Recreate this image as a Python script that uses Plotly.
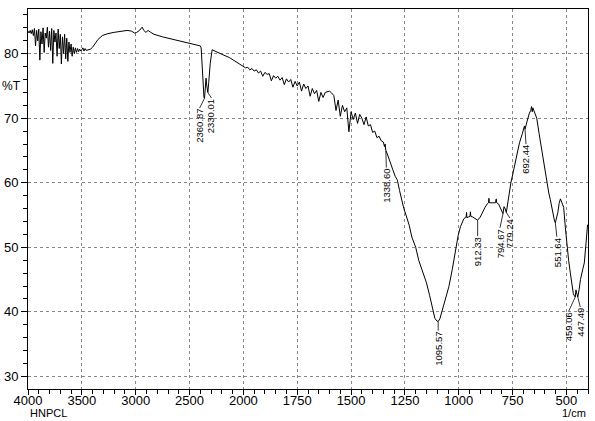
import plotly.graph_objects as go

# ---------------- data ----------------
wavenumber = [
    4000, 3990, 3980, 3970, 3960, 3950, 3940, 3930, 3920, 3910, 3900, 3890, 3880, 3870,
    3860, 3850, 3840, 3830, 3820, 3810, 3800, 3790, 3780, 3770, 3760, 3750, 3740, 3730,
    3720, 3710, 3700, 3690, 3680, 3670, 3660, 3650, 3640, 3630, 3620, 3610, 3600, 3590,
    3580, 3570, 3560, 3550, 3540, 3530, 3520, 3510, 3500,
    3490, 3480, 3470, 3460, 3440, 3420, 3400, 3380, 3350, 3310, 3260, 3200, 3150, 3080,
    3040, 3010, 2990, 2965, 2940, 2925, 2905, 2885, 2860, 2830, 2750, 2650, 2550, 2450,
    2400, 2392, 2376, 2366, 2360.87, 2354, 2347, 2340, 2330.01, 2322, 2308, 2290, 2260,
    2200, 2130, 2060, 2020,
    2000, 1990, 1980, 1970, 1960, 1950, 1940, 1930, 1920, 1910, 1900, 1890, 1880, 1870,
    1860, 1850, 1840, 1830, 1820, 1810, 1800, 1790, 1780, 1770, 1760, 1750, 1740, 1730,
    1720, 1710, 1700, 1690, 1680, 1670, 1660, 1650, 1640, 1630, 1620, 1610, 1600, 1590,
    1580, 1570, 1560, 1550, 1540, 1530, 1520, 1510, 1500, 1490, 1480, 1470, 1460, 1450,
    1440, 1430, 1420, 1410, 1400, 1390, 1380, 1370, 1360, 1350, 1345, 1342, 1338.60,
    1330, 1318, 1306, 1295, 1285, 1275, 1265, 1255, 1245, 1230, 1218, 1200, 1186, 1170,
    1150, 1135, 1125, 1111, 1102, 1095.57, 1088, 1079, 1062, 1046, 1030, 1016, 1003, 992,
    984, 977, 970, 966, 964, 962, 955, 948, 946, 944, 935, 925, 912.33, 900, 890, 878,
    866, 862, 860, 858, 845, 830, 826, 824, 815, 807, 800, 794.67, 790, 786, 779.24,
    770, 758, 745, 730, 718, 705, 699, 695, 692.44, 688, 679, 672, 666, 662, 659, 656,
    652, 645, 638, 627, 615, 603, 592, 582, 575, 565, 559, 555, 551.64, 545, 540, 534,
    528, 522, 513, 505, 498, 490, 482, 475, 468, 462, 459.06, 456, 452, 447.49, 441,
    435, 425, 417, 409, 402,
]
transmittance = [
    83.5, 83.2, 83.6, 83.1, 83.7, 82.8, 83.9, 81.2, 83.6, 82.0, 83.8, 79.0, 83.4, 81.5,
    84.0, 80.2, 83.2, 82.4, 84.1, 81.0, 83.5, 80.5, 83.9, 78.5, 83.6, 81.8, 83.2, 79.6,
    83.8, 80.8, 83.0, 78.4, 82.6, 80.0, 83.0, 79.2, 82.4, 78.8, 81.8, 80.2, 81.5, 79.6,
    81.0, 80.0, 80.9, 80.2, 80.8, 80.3, 80.7, 80.4, 80.6,
    80.9, 80.4, 80.8, 80.5, 80.6, 80.7, 81.0, 81.5, 82.2, 82.8, 83.1, 83.3, 83.4, 83.6,
    83.5, 83.2, 83.3, 83.6, 84.1, 83.6, 83.3, 83.6, 83.3, 83.0, 82.6, 82.2, 81.8, 81.4,
    81.2, 80.9, 74.5, 73.2, 73.1, 75.0, 76.2, 75.0, 74.0, 75.5, 78.5, 80.6, 80.4,
    79.9, 79.4, 78.6, 78.2,
    78.0, 77.8, 77.9, 77.5, 77.7, 77.3, 77.5, 77.0, 77.3, 76.5, 77.1, 76.8, 76.9, 75.8,
    76.6, 76.2, 76.5, 75.9, 76.3, 75.2, 76.1, 75.6, 76.0, 74.8, 75.7, 75.0, 75.6, 74.2,
    75.3, 74.6, 75.0, 73.4, 74.6, 73.8, 74.3, 72.6, 74.0, 73.2, 74.0, 74.1, 74.2, 73.9,
    73.5, 71.2, 72.8, 70.3, 72.0, 71.0, 71.6, 67.9, 71.0, 69.8, 70.8, 69.2, 70.6, 70.0,
    69.0, 70.2, 68.8, 69.0, 67.8, 68.0, 67.0, 67.2, 66.5, 66.3, 65.6, 66.0, 65.0,
    64.3, 63.3, 62.0, 61.0, 60.4, 58.8, 57.2, 56.0, 55.0, 53.4, 51.6, 50.0, 48.0, 46.3,
    44.5, 42.5, 40.8, 39.0, 38.6, 38.5, 38.9, 39.9, 41.8, 43.9, 46.6, 49.6, 51.8, 53.2,
    54.0, 54.4, 54.6, 54.6, 55.4, 54.6, 54.7, 54.8, 55.5, 54.8, 54.7, 54.5, 54.2, 54.7, 55.5, 56.2,
    56.8, 56.9, 57.6, 56.9, 56.9, 56.9, 57.5, 56.9, 56.7, 56.0, 55.4, 55.2, 56.3, 56.1, 55.4,
    57.5, 60.0, 62.0, 64.3, 66.2, 67.6, 68.2, 68.8, 68.3, 69.0, 70.0, 70.8, 71.2, 71.8, 71.0, 71.6,
    71.3, 70.6, 70.0, 67.6, 65.0, 62.3, 60.0, 58.4, 57.4, 55.6, 54.3, 54.0, 53.8, 54.6, 55.4, 56.8,
    57.5, 57.0, 56.2, 53.0, 50.1, 48.0, 46.0, 44.0, 42.8, 42.4, 42.3, 43.4, 43.0, 42.3, 43.5,
    45.0, 46.5, 47.6, 50.7, 53.5,
]

peak_wn = [2360.87, 2330.01, 1338.60, 1095.57, 912.33, 794.67, 779.24, 692.44, 551.64, 459.06, 447.49]
peak_T = [73.1, 74.0, 65.0, 38.5, 54.2, 55.2, 55.4, 68.3, 53.8, 42.3, 42.3]
peak_text = ["2360.87", "2330.01", "1338.60", "1095.57", "912.33", "794.67", "779.24",
             "692.44", "551.64", "459.06", "447.49"]

tick_wn = [4000, 3500, 3000, 2500, 2000, 1750, 1500, 1250, 1000, 750, 500]


# Shimadzu style axis: below 2000 cm-1 the scale is expanded 2x
def u(w):
    return 4000 - w if w >= 2000 else 2000 + 2 * (2000 - w)


xs = [u(w) for w in wavenumber]

fig = go.Figure()
fig.add_trace(go.Scatter(x=xs, y=transmittance, mode="lines",
                         line=dict(color="black", width=1), hoverinfo="skip",
                         showlegend=False))

FONT = "Liberation Sans, Arial, sans-serif"

# label layout: (text centre dx px, text top offset px below the point)
label_dx = [-5, 3.5, 0.5, 0, 0, -3, 3.5, 1, 1.5, -6.5, 2.5]
label_top = [10, 5.5, 17, 9, 16, 14, 5.5, 15, 14, 14, 10]

shapes = []
annotations = []
for w, t, txt, dx, top in zip(peak_wn, peak_T, peak_text, label_dx, label_top):
    shapes.append(dict(type="line", xref="x", yref="y", xsizemode="pixel", ysizemode="pixel",
                       xanchor=u(w), yanchor=t, x0=0, y0=0, x1=dx, y1=-top,
                       line=dict(color="black", width=0.8)))
    annotations.append(dict(x=u(w), y=t, xref="x", yref="y", text=txt, showarrow=False,
                            textangle=-90, xanchor="center", yanchor="top",
                            xshift=dx, yshift=-top, borderpad=0,
                            font=dict(family=FONT, size=9.5, color="black")))

annotations.append(dict(x=-0.05, y=75, xref="paper", yref="y", text="%T", showarrow=False,
                        xanchor="left", yanchor="middle",
                        font=dict(family=FONT, size=12, color="black")))
annotations.append(dict(x=0.0, y=0, xref="paper", yref="paper", text="HNPCL", showarrow=False,
                        xanchor="left", yanchor="bottom", yshift=-32,
                        font=dict(family=FONT, size=11, color="black")))
annotations.append(dict(x=1.0, y=0, xref="paper", yref="paper", text="1/cm", showarrow=False,
                        xanchor="right", yanchor="bottom", yshift=-32,
                        font=dict(family=FONT, size=11, color="black")))

minor_x = [v for v in range(0, 5201, 100)]

fig.update_layout(
    width=595, height=421,
    margin=dict(l=28, r=7, t=9, b=32, autoexpand=False),
    paper_bgcolor="white", plot_bgcolor="white",
    font=dict(family=FONT, size=13, color="black"),
    shapes=shapes, annotations=annotations,
    xaxis=dict(range=[0, 5200], tickmode="array", tickvals=[u(w) for w in tick_wn],
               ticktext=[str(w) for w in tick_wn], ticks="outside", ticklen=5,
               ticklabelstandoff=-6,
               tickcolor="black", showline=True, linecolor="black", linewidth=1, mirror=True,
               showgrid=True, gridcolor="#888888", griddash="dot", gridwidth=1,
               zeroline=False,
               minor=dict(tickmode="array", tickvals=minor_x, ticks="outside", ticklen=4,
                          tickcolor="black", showgrid=False),
               tickfont=dict(size=13)),
    yaxis=dict(range=[28.05, 86.92], tickmode="linear", tick0=0, dtick=10, ticks="outside",
               ticklen=6, tickcolor="black", showline=True, linecolor="black", linewidth=1,
               mirror=True, showgrid=True, gridcolor="#888888", griddash="dot", gridwidth=1,
               zeroline=False,
               minor=dict(tickmode="linear", tick0=0, dtick=2, ticks="outside", ticklen=4,
                          tickcolor="black", showgrid=False),
               tickfont=dict(size=13)),
)

fig.write_html("out.html", config={"displayModeBar": False},
               post_script="document.body.style.margin='0px';")
